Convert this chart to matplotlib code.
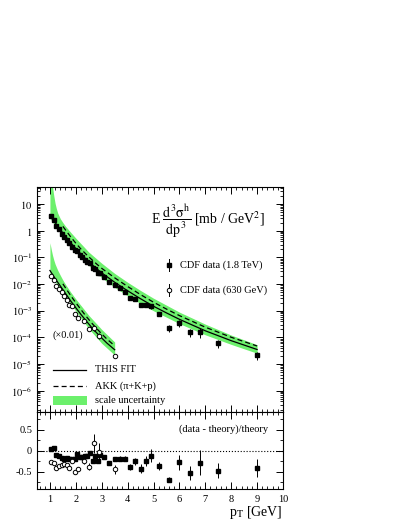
import numpy as np
import matplotlib
matplotlib.use('Agg')
import matplotlib.pyplot as plt
from matplotlib.ticker import MultipleLocator, FixedLocator, FixedFormatter, NullFormatter

plt.rcParams['font.family'] = ['Liberation Serif', 'DejaVu Serif']
plt.rcParams['mathtext.fontset'] = 'stix'

# CDF 1.8 TeV data
pt_18 = [1.05, 1.15, 1.25, 1.35, 1.45, 1.55, 1.65, 1.75, 1.85, 1.95,
         2.05, 2.15, 2.25, 2.35, 2.45, 2.55, 2.65, 2.75, 2.85, 2.95,
         3.1, 3.3, 3.5, 3.7, 3.9, 4.1, 4.3, 4.5, 4.7, 4.9,
         5.2, 5.6, 6.0, 6.4, 6.8, 7.5, 9.0]
xs_18 = [3.48, 2.54, 1.56, 1.11, 0.783, 0.581, 0.451, 0.334, 0.250, 0.194,
         0.177, 0.126, 0.0998, 0.0832, 0.0675, 0.0593, 0.0385, 0.0371, 0.0267, 0.0262,
         0.0192, 0.0117, 9.40e-3, 7.14e-3, 5.22e-3, 2.99e-3, 2.79e-3, 1.63e-3, 1.66e-3, 1.51e-3,
         7.52e-4, 2.30e-4, 3.49e-4, 1.55e-4, 1.57e-4, 6.08e-5, 2.13e-5]
relerr_18 = [0.03] * 20 + [0.05, 0.05, 0.06, 0.06, 0.07, 0.10, 0.12, 0.17, 0.15, 0.20,
                           0.15, 0.30, 0.30, 0.35, 0.40, 0.35, 0.35]
ratio_18 = [0.04, 0.06, -0.10, -0.13, -0.17, -0.18, -0.16, -0.18, -0.20, -0.20,
            -0.07, -0.15, -0.15, -0.13, -0.12, -0.05, -0.25, -0.11, -0.23, -0.09,
            -0.14, -0.28, -0.20, -0.18, -0.19, -0.39, -0.25, -0.42, -0.24, -0.11,
            -0.36, -0.69, -0.27, -0.52, -0.28, -0.47, -0.40]
ratio_err_18 = [0.02] * 10 + [0.03] * 10 + [0.04, 0.04, 0.05, 0.05, 0.06, 0.07, 0.09, 0.10, 0.11, 0.16,
                                            0.09, 0.06, 0.18, 0.17, 0.30, 0.18, 0.21]

# CDF 630 GeV data (x 0.01)
pt_630 = [1.05, 1.15, 1.25, 1.35, 1.45, 1.55, 1.65, 1.75, 1.85, 1.95,
          2.1, 2.3, 2.5, 2.7, 2.9, 3.5]
xs_630 = [0.0200, 0.0138, 8.32e-3, 6.46e-3, 4.90e-3, 3.55e-3, 2.51e-3, 1.66e-3, 1.51e-3, 7.41e-4,
          5.50e-4, 4.17e-4, 2.00e-4, 2.24e-4, 1.17e-4, 1.95e-5]
relerr_630 = [0.03] * 10 + [0.05, 0.07, 0.10, 0.25, 0.25, 0.15]
ratio_630 = [-0.26, -0.28, -0.40, -0.36, -0.33, -0.32, -0.34, -0.40, -0.25, -0.50,
             -0.43, -0.24, -0.37, 0.18, -0.03, -0.44]
ratio_err_630 = [0.02] * 9 + [0.04, 0.05, 0.06, 0.09, 0.22, 0.22, 0.10]

# THIS FIT curves
fit_pt_18 = [1.0, 1.1, 1.2, 1.3, 1.4, 1.5, 1.6, 1.7, 1.8, 1.9, 2.0, 2.2, 2.4, 2.6, 2.8,
             3.0, 3.5, 4.0, 4.5, 5.0, 5.5, 6.0, 7.0, 8.0, 9.0]
fit_18 = [3.98, 2.82, 2.04, 1.48, 1.10, 0.813, 0.617, 0.468, 0.355, 0.275, 0.214, 0.132,
          0.0851, 0.0562, 0.0380, 0.0263, 0.0117, 5.62e-3, 2.82e-3, 1.48e-3, 8.32e-4,
          4.79e-4, 1.78e-4, 7.59e-5, 3.55e-5]
fit_pt_630 = [1.0, 1.1, 1.2, 1.3, 1.4, 1.5, 1.6, 1.7, 1.8, 1.9, 2.0, 2.2, 2.4, 2.6, 2.8,
              3.0, 3.2, 3.5]
fit_630 = [0.0324, 0.0229, 0.0162, 0.0117, 8.51e-3, 6.17e-3, 4.47e-3, 3.24e-3, 2.34e-3,
           1.74e-3, 1.29e-3, 7.24e-4, 4.17e-4, 2.45e-4, 1.51e-4, 9.55e-5, 6.17e-5, 3.47e-5]

# AKK (pi+K+p) curves
akk_pt_18 = [1.5, 1.6, 1.8, 2.0, 2.2, 2.4, 2.6, 2.8, 3.0, 3.5, 4.0, 4.5, 5.0, 5.5, 6.0,
             7.0, 8.0, 9.0]
akk_18 = [1.45, 1.07, 0.589, 0.339, 0.204, 0.130, 0.0851, 0.0569, 0.0389, 0.0172,
          8.13e-3, 4.03e-3, 2.09e-3, 1.16e-3, 6.61e-4, 2.43e-4, 1.02e-4, 4.79e-5]
akk_pt_630 = [1.5, 1.6, 1.8, 2.0, 2.2, 2.4, 2.6, 2.8, 3.0, 3.2, 3.5]
akk_630 = [0.0102, 7.24e-3, 3.72e-3, 2.00e-3, 1.10e-3, 6.17e-4, 3.59e-4, 2.19e-4,
           1.36e-4, 8.71e-5, 4.90e-5]

# scale uncertainty bands
band_pt_18 = [1.0, 1.05, 1.1, 1.15, 1.2, 1.25, 1.3, 1.4, 1.5, 1.6, 1.8, 2.0, 2.5, 3.0,
              3.5, 4.0, 4.5, 5.0, 6.0, 7.0, 8.0, 9.0]
band_hi_18 = [316, 100, 44.7, 20.0, 10.5, 6.61, 4.57, 2.82, 2.0, 1.48, 0.871, 0.525,
              0.158, 0.0603, 0.0251, 0.0117, 5.75e-3, 2.95e-3, 8.91e-4, 3.16e-4,
              1.23e-4, 5.37e-5]
band_lo_18 = [3.02, 2.51, 2.14, 1.82, 1.55, 1.32, 1.12, 0.832, 0.617, 0.457, 0.263,
              0.158, 0.0501, 0.0174, 7.59e-3, 3.63e-3, 1.86e-3, 1.0e-3, 3.31e-4,
              1.26e-4, 5.50e-5, 2.57e-5]
band_pt_630 = [1.0, 1.05, 1.1, 1.15, 1.2, 1.3, 1.4, 1.5, 1.6, 1.8, 2.0, 2.5, 3.0, 3.5]
band_hi_630 = [0.355, 0.200, 0.120, 0.0794, 0.0562, 0.0331, 0.0214, 0.0141, 9.77e-3,
               5.01e-3, 2.75e-3, 6.76e-4, 2.0e-4, 6.76e-5]
band_lo_630 = [0.0240, 0.0204, 0.0174, 0.0148, 0.0126, 9.12e-3, 6.61e-3, 4.79e-3,
               3.47e-3, 1.82e-3, 9.77e-4, 2.14e-4, 6.03e-5, 2.19e-5]

ytick_vals = [10, 1, 1e-1, 1e-2, 1e-3, 1e-4, 1e-5, 1e-6]
ytick_labels = ['$10$', '$1$', '$10^{-1}$', '$10^{-2}$', '$10^{-3}$', '$10^{-4}$',
                '$10^{-5}$', '$10^{-6}$']

band_color = '#6cf06c'
fs = 7.5

fig = plt.figure(figsize=(4.07, 5.27), dpi=100)
ax = fig.add_axes([0.0909, 0.2188, 0.6044, 0.4264])
ax2 = fig.add_axes([0.0909, 0.0721, 0.6044, 0.1467], sharex=ax)

# upper panel
ax.fill_between(band_pt_18, band_lo_18, band_hi_18, color=band_color, lw=0, zorder=1)
ax.fill_between(band_pt_630, band_lo_630, band_hi_630, color=band_color, lw=0, zorder=1)
ax.plot(fit_pt_18, fit_18, 'k-', lw=0.9, zorder=2)
ax.plot(fit_pt_630, fit_630, 'k-', lw=0.9, zorder=2)
ax.plot(akk_pt_18, akk_18, 'k--', lw=0.9, dashes=(4, 2.5), zorder=2)
ax.plot(akk_pt_630, akk_630, 'k--', lw=0.9, dashes=(4, 2.5), zorder=2)
ax.errorbar(pt_18, xs_18, yerr=np.array(xs_18) * np.array(relerr_18), fmt='s',
            color='k', ms=3.2, elinewidth=0.7, capsize=0, zorder=3)
ax.errorbar(pt_630, xs_630, yerr=np.array(xs_630) * np.array(relerr_630), fmt='o',
            mfc='white', mec='k', color='k', ms=3.2, mew=0.7, elinewidth=0.7,
            capsize=0, zorder=3)

ax.set_yscale('log')
ax.set_xlim(0.5, 10)
ax.set_ylim(1.66e-7, 43.4)
ax.yaxis.set_major_locator(FixedLocator(ytick_vals))
ax.yaxis.set_major_formatter(FixedFormatter(ytick_labels))
ax.yaxis.set_minor_formatter(NullFormatter())
ax.tick_params(which='both', direction='in', top=True, right=True, labelsize=fs)
ax.tick_params(which='major', length=5, width=0.7)
ax.tick_params(which='minor', length=2.5, width=0.6)
ax.tick_params(axis='x', labelbottom=False)

ax.text(0.463, 0.845, r'E $\dfrac{\mathrm{d^3\sigma^h}}{\mathrm{dp^3}}$ [mb / GeV$^2$]',
        transform=ax.transAxes, fontsize=10, va='center', ha='left')

ax.plot([0.537], [0.653], 's', color='k', ms=3.2, transform=ax.transAxes)
ax.plot([0.537, 0.537], [0.625, 0.681], 'k-', lw=0.7, transform=ax.transAxes)
ax.text(0.581, 0.653, 'CDF data (1.8 TeV)', transform=ax.transAxes, fontsize=fs, va='center')
ax.plot([0.537], [0.542], 'o', mfc='white', mec='k', ms=3.2, mew=0.7, transform=ax.transAxes)
ax.plot([0.537, 0.537], [0.514, 0.570], 'k-', lw=0.7, transform=ax.transAxes, zorder=1)
ax.text(0.581, 0.542, 'CDF data (630 GeV)', transform=ax.transAxes, fontsize=fs, va='center')

ax.text(0.061, 0.341, '(\u00d70.01)', transform=ax.transAxes, fontsize=fs, va='center')

ax.plot([0.065, 0.199], [0.186, 0.186], 'k-', lw=0.9, transform=ax.transAxes)
ax.text(0.236, 0.186, 'THIS FIT', transform=ax.transAxes, fontsize=fs, va='center')
ax.plot([0.065, 0.199], [0.114, 0.114], 'k--', lw=0.9, dashes=(4, 2.5), transform=ax.transAxes)
ax.text(0.236, 0.114, 'AKK (\u03c0+K+p)', transform=ax.transAxes, fontsize=fs, va='center')
ax.add_patch(plt.Rectangle((0.065, 0.028), 0.138, 0.04, color=band_color, lw=0,
                           transform=ax.transAxes))
ax.text(0.236, 0.048, 'scale uncertainty', transform=ax.transAxes, fontsize=fs, va='center')

# lower panel
ax2.axhline(0, color='k', ls=':', lw=0.8)
ax2.errorbar(pt_18, ratio_18, yerr=ratio_err_18, fmt='s', color='k', ms=3.2,
             elinewidth=0.7, capsize=0, zorder=3)
ax2.errorbar(pt_630, ratio_630, yerr=ratio_err_630, fmt='o', mfc='white', mec='k',
             color='k', ms=3.2, mew=0.7, elinewidth=0.7, capsize=0, zorder=3)
ax2.set_ylim(-0.905, 0.935)
ax2.set_yticks([-0.5, 0, 0.5])
ax2.set_yticklabels(['-0.5', '0', '0.5'])
ax2.yaxis.set_minor_locator(MultipleLocator(0.25))
ax2.xaxis.set_major_locator(MultipleLocator(1))
ax2.xaxis.set_minor_locator(MultipleLocator(0.2))
ax2.tick_params(which='both', direction='in', top=True, right=True, labelsize=fs)
ax2.tick_params(which='major', length=5, width=0.7)
ax2.tick_params(which='minor', length=2.5, width=0.6)
ax2.tick_params(axis='x', pad=4)
ax2.text(0.94, 0.776, '(data - theory)/theory', transform=ax2.transAxes, fontsize=fs,
         ha='right', va='center')

for a in (ax, ax2):
    for s in a.spines.values():
        s.set_linewidth(0.8)

fig.text(283 / 407, 1 - 504 / 527, r'p$_\mathrm{T}$ [GeV]', fontsize=10, ha='right', va='top')

plt.savefig('out.png', dpi=100)
